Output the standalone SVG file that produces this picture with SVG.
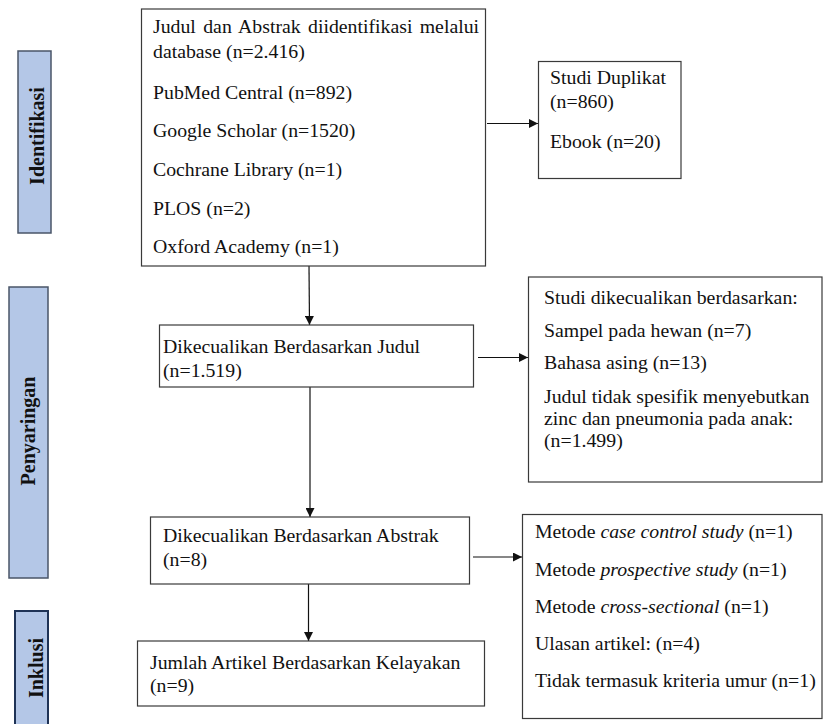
<svg xmlns="http://www.w3.org/2000/svg" width="823" height="724" viewBox="0 0 823 724">
<defs>
<style>
.box{fill:#ffffff;stroke:#3a3a3a;stroke-width:1.2}
.t{font-family:"Liberation Serif","Times New Roman",serif;font-size:19.8px;fill:#111111}
.lab{fill:#b4c7e7;stroke:#4a5568;stroke-width:1.5}
.labt{font-family:"Liberation Serif","Times New Roman",serif;font-size:20px;font-weight:bold;fill:#111111}
.ln{stroke:#111111;stroke-width:1.2;fill:none}
.i{font-style:italic}
</style>
<marker id="ah" viewBox="0 0 10 10" refX="10" refY="5" markerWidth="9" markerHeight="9" markerUnits="userSpaceOnUse" orient="auto">
<path d="M0,0 L10,5 L0,10 z" fill="#111111"/>
</marker>
</defs>
<rect width="823" height="724" fill="#ffffff"/>

<g id="label-identifikasi">
<rect class="lab" x="18" y="51" width="33" height="182"/>
<text class="labt" transform="translate(44,136) rotate(-90)" text-anchor="middle">Identifikasi</text>
</g>
<g id="label-penyaringan">
<rect class="lab" x="9" y="287" width="39" height="291"/>
<text class="labt" transform="translate(35,431) rotate(-90)" text-anchor="middle">Penyaringan</text>
</g>
<g id="label-inklusi">
<rect class="lab" x="15" y="611" width="33" height="125" style="stroke:#1f3356;stroke-width:2"/>
<text class="labt" transform="translate(43,668) rotate(-90)" text-anchor="middle">Inklusi</text>
</g>

<g id="connectors">
<line class="ln" x1="309" y1="266" x2="309.5" y2="325" marker-end="url(#ah)"/>
<line class="ln" x1="310" y1="387" x2="310" y2="517" marker-end="url(#ah)"/>
<line class="ln" x1="308.5" y1="584" x2="308.5" y2="641" marker-end="url(#ah)"/>
<line class="ln" x1="487" y1="123.5" x2="538" y2="123.5" marker-end="url(#ah)"/>
<line class="ln" x1="478" y1="357.5" x2="528" y2="357.5" marker-end="url(#ah)"/>
<line class="ln" x1="473" y1="557" x2="522" y2="557" marker-end="url(#ah)"/>
</g>

<g id="node-identifikasi">
<rect class="box" x="141.5" y="9" width="344" height="257"/>
<text class="t" x="153" y="33" word-spacing="2.4">Judul dan Abstrak diidentifikasi melalui</text>
<text class="t" x="153" y="58">database (n=2.416)</text>
<text class="t" x="153" y="99">PubMed Central (n=892)</text>
<text class="t" x="153" y="137">Google Scholar (n=1520)</text>
<text class="t" x="153" y="176">Cochrane Library (n=1)</text>
<text class="t" x="153" y="215">PLOS (n=2)</text>
<text class="t" x="153" y="253">Oxford Academy (n=1)</text>
</g>

<g id="node-duplikat">
<rect class="box" x="538.5" y="61.5" width="142.5" height="117"/>
<text class="t" x="550" y="84">Studi Duplikat</text>
<text class="t" x="550" y="108">(n=860)</text>
<text class="t" x="550" y="148">Ebook (n=20)</text>
</g>

<g id="node-judul">
<rect class="box" x="159.5" y="325" width="314" height="62"/>
<text class="t" x="163" y="353">Dikecualikan Berdasarkan Judul</text>
<text class="t" x="163" y="377">(n=1.519)</text>
</g>

<g id="node-ekslusi-judul">
<rect class="box" x="528.5" y="277" width="293.5" height="205"/>
<text class="t" x="544" y="304">Studi dikecualikan berdasarkan:</text>
<text class="t" x="544" y="337">Sampel pada hewan (n=7)</text>
<text class="t" x="544" y="369">Bahasa asing (n=13)</text>
<text class="t" x="544" y="403">Judul tidak spesifik menyebutkan</text>
<text class="t" x="544" y="425">zinc dan pneumonia pada anak:</text>
<text class="t" x="544" y="447">(n=1.499)</text>
</g>

<g id="node-abstrak">
<rect class="box" x="150.5" y="517" width="319" height="67"/>
<text class="t" x="163" y="542">Dikecualikan Berdasarkan Abstrak</text>
<text class="t" x="163" y="566">(n=8)</text>
</g>

<g id="node-ekslusi-abstrak">
<rect class="box" x="522.5" y="514.5" width="299.5" height="204"/>
<text class="t" x="535" y="538">Metode <tspan class="i">case control study</tspan> (n=1)</text>
<text class="t" x="535" y="576">Metode <tspan class="i">prospective study</tspan> (n=1)</text>
<text class="t" x="535" y="613">Metode <tspan class="i">cross-sectional</tspan> (n=1)</text>
<text class="t" x="535" y="650">Ulasan artikel: (n=4)</text>
<text class="t" x="535" y="687">Tidak termasuk kriteria umur (n=1)</text>
</g>

<g id="node-inklusi">
<rect class="box" x="137.5" y="641" width="347" height="65"/>
<text class="t" x="150" y="669">Jumlah Artikel Berdasarkan Kelayakan</text>
<text class="t" x="150" y="692">(n=9)</text>
</g>
</svg>
